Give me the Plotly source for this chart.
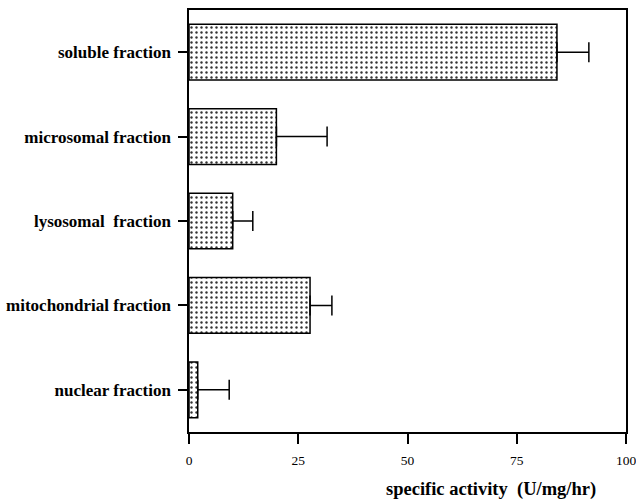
import plotly.graph_objects as go

# Subcellular fractions, bottom to top
fractions = ["nuclear fraction", "mitochondrial fraction", "lysosomal  fraction",
             "microsomal fraction", "soluble fraction"]
activity = [2.0, 27.7, 10.0, 20.0, 84.2]
activity_err = [7.2, 5.0, 4.6, 11.6, 7.3]
x_ticks = [0, 25, 50, 75, 100]

serif = "Liberation Serif, Times New Roman, serif"

fig = go.Figure(
    go.Bar(
        y=list(range(len(fractions))),
        x=activity,
        orientation="h",
        width=0.66,
        marker=dict(
            color="white",
            line=dict(color="black", width=1.5),
            pattern=dict(shape=".", fgcolor="#333333", bgcolor="white",
                         size=5, solidity=0.18),
        ),
        error_x=dict(type="data", array=activity_err,
                     arrayminus=[0] * len(activity), symmetric=False,
                     color="black", thickness=1.5, width=10),
    )
)

fig.update_layout(
    template="none",
    width=636, height=503,
    margin=dict(l=189, r=10, t=10, b=71, autoexpand=False),
    paper_bgcolor="white", plot_bgcolor="white",
    showlegend=False,
    font=dict(family=serif, color="black"),
)

fig.update_xaxes(
    range=[0, 100], tickvals=x_ticks, ticktext=[str(v) for v in x_ticks],
    ticks="outside", ticklen=10, tickwidth=1.5, tickcolor="black",
    showline=True, linecolor="black", linewidth=1.5, mirror=True,
    showgrid=False, zeroline=False, automargin=False,
    tickfont=dict(family=serif, size=13.5),
    ticklabelstandoff=5, ticklabeloverflow="allow",
)

fig.update_yaxes(
    range=[-0.5, 4.5], tickvals=list(range(len(fractions))),
    ticktext=[f"<b>{f}</b>" for f in fractions],
    ticks="outside", ticklen=9, tickwidth=1.5, tickcolor="black",
    showline=True, linecolor="black", linewidth=1.5, mirror=True,
    showgrid=False, zeroline=False, automargin=False,
    tickfont=dict(family=serif, size=17),
    ticklabelstandoff=4,
)

fig.add_annotation(
    text="<b>specific activity  (U/mg/hr)</b>",
    xref="paper", yref="paper", x=0.692, y=-0.137,
    xanchor="center", yanchor="middle", showarrow=False,
    font=dict(family=serif, size=18.5, color="black"),
)

fig.write_html("out.html")
